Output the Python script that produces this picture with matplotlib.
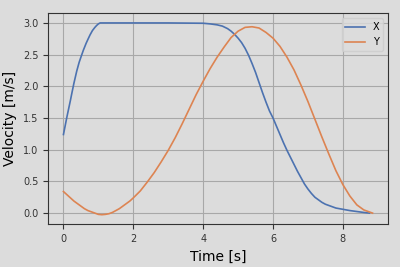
import numpy as np
import matplotlib
matplotlib.use("Agg")
import matplotlib.pyplot as plt

# velocity profiles
t_x = [0.0, 0.05, 0.1, 0.15, 0.2, 0.24, 0.3, 0.38, 0.45, 0.5, 0.57, 0.65, 0.7, 0.76, 0.83,
       0.9, 0.95, 1.0, 1.05, 1.1, 2.0, 3.0, 4.0, 4.2, 4.4, 4.55, 4.7, 4.8, 4.9, 5.0,
       5.1, 5.2, 5.3, 5.4, 5.5, 5.6, 5.7, 5.8, 5.9, 6.0, 6.1, 6.2, 6.3, 6.4, 6.5,
       6.6, 6.7, 6.8, 6.9, 7.0, 7.1, 7.2, 7.3, 7.4, 7.5, 7.6, 7.7, 7.8, 7.9, 8.0,
       8.2, 8.4, 8.6, 8.76]
v_x = [1.24, 1.38, 1.52, 1.65, 1.78, 1.89, 2.05, 2.24, 2.38, 2.46, 2.57, 2.68, 2.74, 2.81, 2.88,
       2.93, 2.96, 2.985, 3.0, 3.0, 3.0, 3.0, 2.995, 2.985, 2.97, 2.95, 2.91, 2.87, 2.82, 2.76,
       2.69, 2.60, 2.49, 2.36, 2.22, 2.06, 1.90, 1.75, 1.61, 1.50, 1.37, 1.24, 1.11, 0.99, 0.88,
       0.77, 0.66, 0.56, 0.46, 0.38, 0.31, 0.25, 0.21, 0.17, 0.14, 0.12, 0.10, 0.08, 0.07, 0.06,
       0.04, 0.025, 0.01, 0.0]

t_y = [0.0, 0.1, 0.2, 0.3, 0.4, 0.5, 0.6, 0.7, 0.8, 0.9, 1.0, 1.1, 1.2, 1.3, 1.4,
       1.5, 1.6, 1.7, 1.8, 1.9, 2.0, 2.2, 2.4, 2.6, 2.8, 3.0, 3.2, 3.4, 3.6, 3.8,
       4.0, 4.2, 4.4, 4.6, 4.8, 5.0, 5.2, 5.4, 5.6, 5.8, 6.0, 6.2, 6.4, 6.6, 6.8,
       7.0, 7.2, 7.4, 7.6, 7.8, 8.0, 8.2, 8.4, 8.6, 8.8, 8.85]
v_y = [0.34, 0.29, 0.24, 0.19, 0.15, 0.11, 0.07, 0.04, 0.02, 0.0, -0.02, -0.025, -0.02, -0.01, 0.01,
       0.04, 0.07, 0.11, 0.15, 0.19, 0.24, 0.35, 0.49, 0.64, 0.81, 0.99, 1.19, 1.41, 1.64, 1.87,
       2.08, 2.28, 2.46, 2.62, 2.77, 2.87, 2.93, 2.94, 2.92, 2.85, 2.76, 2.63, 2.46, 2.26, 2.02,
       1.76, 1.48, 1.20, 0.93, 0.67, 0.45, 0.27, 0.13, 0.05, 0.01, 0.0]

bg = "#dcdcdc"
fig, ax = plt.subplots(figsize=(4, 2.67), dpi=100)
fig.patch.set_facecolor(bg)
ax.set_facecolor(bg)

ax.plot(t_x, v_x, color="#4c72b0", lw=1.2, label="X")
ax.plot(t_y, v_y, color="#dd8452", lw=1.2, label="Y")

ax.grid(True, color="#a8a8a8", lw=0.8)
ax.set_axisbelow(True)
ax.set_xticks([0, 2, 4, 6, 8])
ax.set_yticks([0.0, 0.5, 1.0, 1.5, 2.0, 2.5, 3.0])
ax.tick_params(labelsize=7, colors="#333333")
ax.set_xlabel("Time [s]", fontsize=10)
ax.set_ylabel("Velocity [m/s]", fontsize=10)
for s in ax.spines.values():
    s.set_color("#333333")

leg = ax.legend(loc="upper right", fontsize=7, facecolor=bg, edgecolor="#cccccc")

fig.subplots_adjust(left=0.12, right=0.97, top=0.95, bottom=0.16)
fig.savefig("out.png", dpi=100, facecolor=bg)
